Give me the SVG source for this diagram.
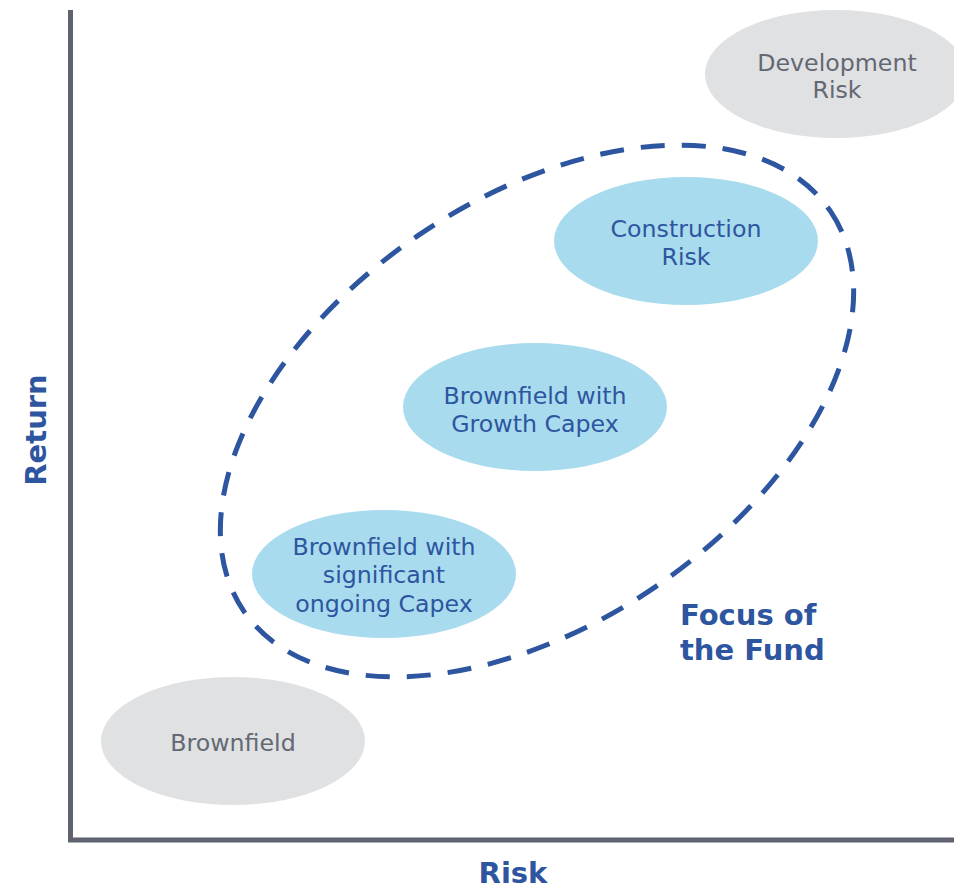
<svg xmlns="http://www.w3.org/2000/svg" width="954" height="887" viewBox="0 0 954 887">
  <style>
    .lbl { font-family: "DejaVu Sans", Verdana, sans-serif; font-size: 23.7px; text-anchor: middle; }
    .gray-node ellipse { fill: #e0e1e3; }
    .gray-node text { fill: #636873; }
    .blue-node ellipse { fill: #a8dbed; }
    .blue-node text { fill: #2d55a0; }
    .axis { stroke: #5f6370; stroke-width: 5; fill: none; }
    .title { font-family: "DejaVu Sans", Verdana, sans-serif; font-weight: bold; font-size: 29px; fill: #2d55a0; }
  </style>
  <rect width="954" height="887" fill="#ffffff"/>

  <!-- risk zones -->
  <g id="development-risk" class="gray-node">
    <ellipse cx="836" cy="74" rx="131" ry="64"/>
    <text class="lbl" x="837" y="71">Development</text>
    <text class="lbl" x="837" y="98">Risk</text>
  </g>
  <g id="construction-risk" class="blue-node">
    <ellipse cx="686" cy="241" rx="132" ry="64"/>
    <text class="lbl" x="686" y="237">Construction</text>
    <text class="lbl" x="686" y="265">Risk</text>
  </g>
  <g id="brownfield-growth" class="blue-node">
    <ellipse cx="535" cy="407" rx="132" ry="64"/>
    <text class="lbl" x="535" y="404">Brownfield with</text>
    <text class="lbl" x="535" y="432">Growth Capex</text>
  </g>
  <g id="brownfield-ongoing" class="blue-node">
    <ellipse cx="384" cy="574" rx="132" ry="64"/>
    <text class="lbl" x="384" y="555">Brownfield with</text>
    <text class="lbl" x="384" y="583">significant</text>
    <text class="lbl" x="384" y="612">ongoing Capex</text>
  </g>
  <g id="brownfield" class="gray-node">
    <ellipse cx="233" cy="741" rx="132" ry="64"/>
    <text class="lbl" x="233" y="751">Brownfield</text>
  </g>

  <!-- focus area -->
  <g id="focus-of-fund">
    <ellipse cx="537" cy="411" rx="355" ry="212" transform="rotate(-34.3 537 411)"
             fill="none" stroke="#2d55a0" stroke-width="5" stroke-dasharray="24 17"/>
    <text class="title" x="680" y="625">Focus of</text>
    <text class="title" x="680" y="660">the Fund</text>
  </g>

  <!-- axes -->
  <g id="axes">
    <path class="axis" d="M70.5 10 V840 H954"/>
    <text class="title" x="513" y="883" text-anchor="middle">Risk</text>
    <text class="title" x="0" y="0" text-anchor="middle" transform="translate(46 430) rotate(-90)">Return</text>
  </g>
</svg>
